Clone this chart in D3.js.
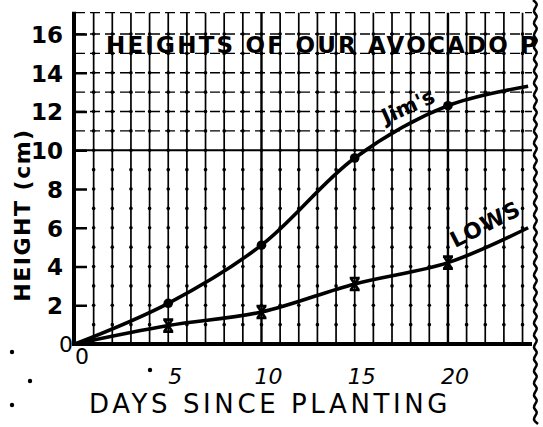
<!DOCTYPE html>
<html>
<head>
<meta charset="utf-8">
<script src="https://cdn.jsdelivr.net/npm/d3@7"></script>
<style>
  html, body { margin: 0; padding: 0; background: #fff; }
  svg { display: block; }
  text { font-family: "DejaVu Sans", sans-serif; fill: #000; }
</style>
</head>
<body>
<svg id="chart" width="543" height="427"></svg>
<script>
// Days since planting at which each plant was measured
const days = [0, 5, 10, 15, 20, 24.3];
// Heights in cm
const jimHeights = [0, 2.1, 5.1, 9.6, 12.3, 13.3];
const lowHeights = [0, 0.95, 1.65, 3.1, 4.2, 6.0];
// Which points were marked on the sheet (the last point runs off the torn edge)
const markedDays = [5, 10, 15, 20];

const yTickValues = [2, 4, 6, 8, 10, 12, 14, 16];
const xTickValues = [5, 10, 15, 20];
const titleText = "HEIGHTS OF OUR AVOCADO P";
const xTitle = "DAYS SINCE PLANTING";
const yTitle = "HEIGHT (cm)";

const svg = d3.select("#chart");
const x = d3.scaleLinear().domain([0, 24.4]).range([75, 530]);
const y = d3.scaleLinear().domain([0, 16]).range([344, 34]);
const yTop = 17.1;

svg.append("defs").append("clipPath").attr("id", "paper")
  .append("rect").attr("x", 0).attr("y", 0).attr("width", 532).attr("height", 427);

const g = svg.append("g").attr("clip-path", "url(#paper)");

// vertical grid lines, one per day
const gridDays = d3.range(1, 25);
g.selectAll("line.vgrid").data(gridDays).join("line")
  .attr("x1", d => x(d)).attr("x2", d => x(d))
  .attr("y1", y(0)).attr("y2", y(yTop))
  .attr("stroke", "#000")
  .attr("stroke-width", d => (d % 10 === 0 ? 2.4 : 1.7));

// dashed horizontal lines in the upper part of the sheet
const upperRows = [11, 12, 13, 14, 15, 16, yTop];
g.selectAll("line.hgrid").data(upperRows).join("line")
  .attr("x1", x(0)).attr("x2", 532)
  .attr("y1", d => y(d)).attr("y2", d => y(d))
  .attr("stroke", "#000").attr("stroke-width", 1.3)
  .attr("stroke-dasharray", "10,5");

// solid line at 10 cm
g.append("line")
  .attr("x1", x(0)).attr("x2", 532).attr("y1", y(10)).attr("y2", y(10))
  .attr("stroke", "#000").attr("stroke-width", 1.8);

// beads where each day line crosses a whole centimetre
const beads = [];
gridDays.forEach(dd => d3.range(1, 17).forEach(v => beads.push([dd, v])));
g.selectAll("circle.bead").data(beads).join("circle")
  .attr("cx", d => x(d[0])).attr("cy", d => y(d[1]))
  .attr("r", 1.8).attr("fill", "#000");

// axes
const yAxis = d3.axisLeft(y).tickValues(yTickValues).tickSize(-12).tickFormat(d => d);
const yAx = svg.append("g").attr("transform", `translate(${x(0)},0)`).call(yAxis);
yAx.select(".domain").remove();
yAx.selectAll(".tick line").attr("stroke", "#000").attr("stroke-width", 2.5);
yAx.selectAll(".tick text")
  .attr("x", -12).attr("dy", "0.36em")
  .style("font-size", "23px").style("font-weight", "bold")
  .style("font-family", "'DejaVu Sans', sans-serif");

svg.append("line")
  .attr("x1", x(0) - 1).attr("x2", x(0) - 1)
  .attr("y1", y(yTop) - 1).attr("y2", y(0) + 2)
  .attr("stroke", "#000").attr("stroke-width", 4);

const xAxis = d3.axisBottom(x).tickValues(xTickValues).tickSize(0).tickFormat(d => d);
const xAx = svg.append("g").attr("transform", `translate(0,${y(0)})`).call(xAxis);
xAx.select(".domain").remove();
xAx.selectAll(".tick text")
  .attr("y", 24).attr("dx", "0.3em")
  .style("font-size", "22px").style("font-style", "italic")
  .style("font-family", "'DejaVu Sans', sans-serif");

svg.append("line")
  .attr("x1", x(0) - 3).attr("x2", 532)
  .attr("y1", y(0)).attr("y2", y(0))
  .attr("stroke", "#000").attr("stroke-width", 4);

// the two zeros at the origin
svg.append("text").attr("x", 66).attr("y", y(0) + 8).attr("text-anchor", "middle")
  .style("font-size", "22px").text("0");
svg.append("text").attr("x", 82).attr("y", y(0) + 20).attr("text-anchor", "middle")
  .style("font-size", "22px").text("0");

// growth curves
const jimData = days.map((d, i) => [d, jimHeights[i]]);
const lowData = days.map((d, i) => [d, lowHeights[i]]);
const line = d3.line().x(d => x(d[0])).y(d => y(d[1])).curve(d3.curveCatmullRom.alpha(0.5));

g.append("path").datum(jimData).attr("d", line)
  .attr("fill", "none").attr("stroke", "#000").attr("stroke-width", 3.6);
g.append("path").datum(lowData).attr("d", line)
  .attr("fill", "none").attr("stroke", "#000").attr("stroke-width", 3.6);

// markers
const jimMarked = jimData.filter(d => markedDays.includes(d[0]));
const lowMarked = lowData.filter(d => markedDays.includes(d[0]));
g.selectAll("circle.jim").data(jimMarked).join("circle")
  .attr("cx", d => x(d[0])).attr("cy", d => y(d[1])).attr("r", 4.8).attr("fill", "#000");
g.selectAll("path.low").data(lowMarked).join("path")
  .attr("transform", d => `translate(${x(d[0])},${y(d[1])})`)
  .attr("d", "M-5,-6 L5,-6 M-5,6 L5,6 M-4,-6 L4,6 M4,-6 L-4,6")
  .attr("fill", "none").attr("stroke", "#000").attr("stroke-width", 2.6);

// series labels
svg.append("text").attr("transform", "translate(411,113) rotate(-24)")
  .attr("text-anchor", "middle").style("font-size", "21px").style("font-weight", "bold")
  .text("Jim's");
svg.append("text").attr("transform", "translate(489,231) rotate(-27)")
  .attr("text-anchor", "middle").style("font-size", "22px").style("font-weight", "bold")
  .style("letter-spacing", "1px").text("LOWS");

// title, lettered over the grid
svg.append("text").attr("x", 106).attr("y", 53)
  .style("font-size", "23px").style("font-weight", "bold")
  .style("letter-spacing", "2.2px")
  .text(titleText);

// axis titles
svg.append("text").attr("x", 270).attr("y", 413).attr("text-anchor", "middle")
  .style("font-size", "26px").style("letter-spacing", "3.6px").text(xTitle);
svg.append("text").attr("transform", "translate(30,215) rotate(-90)")
  .attr("text-anchor", "middle").style("font-size", "22px").style("font-weight", "bold")
  .style("letter-spacing", "1.5px").text(yTitle);

// torn right edge of the sheet
const wave = d3.range(0, 428, 4).map((yy, i) => [534 + (i % 3 === 1 ? 4 : (i % 3 === 2 ? 1 : -1)), yy]);
svg.append("path").datum(wave)
  .attr("d", d3.line().curve(d3.curveBasis))
  .attr("fill", "none").attr("stroke", "#000").attr("stroke-width", 2.5);

// stray pencil dots
const strayDots = [[12, 352], [12, 405], [30, 381], [150, 370]];
svg.selectAll("circle.stray").data(strayDots).join("circle")
  .attr("cx", d => d[0]).attr("cy", d => d[1]).attr("r", 2.2).attr("fill", "#000");
</script>
</body>
</html>
